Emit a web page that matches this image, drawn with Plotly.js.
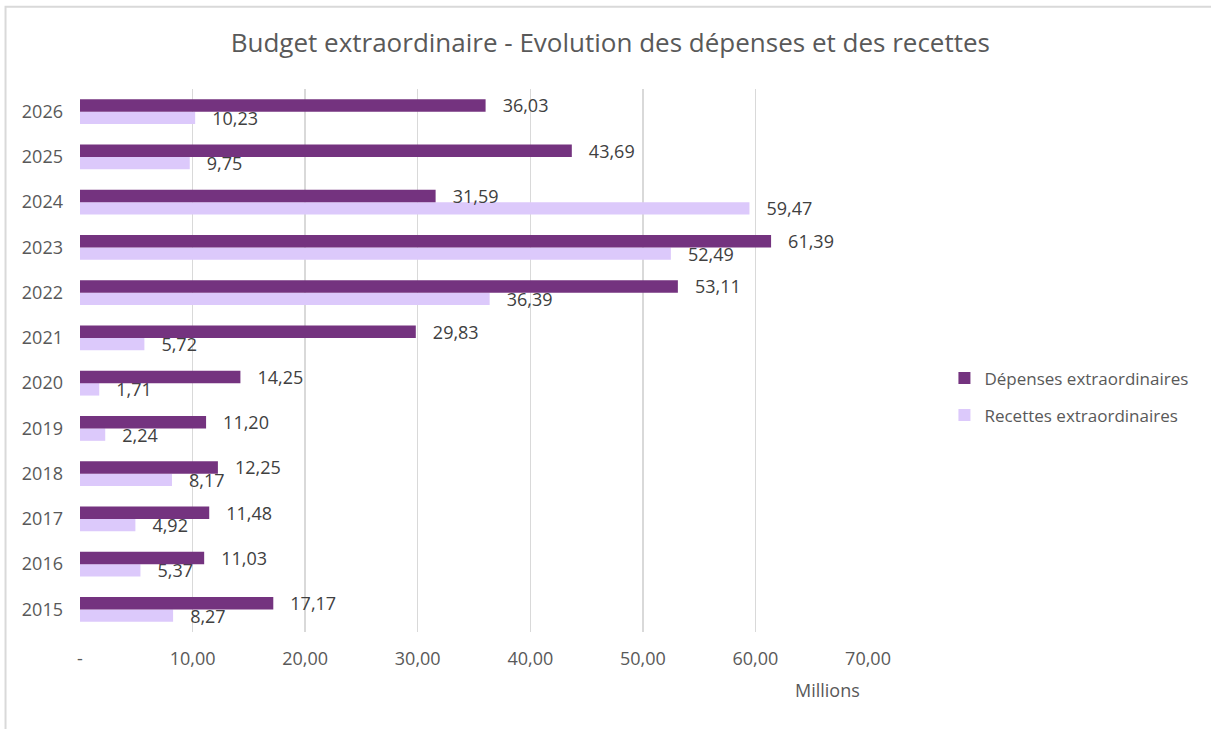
<!DOCTYPE html>
<html>
<head>
<meta charset="utf-8">
<script src="https://cdn.plot.ly/plotly-3.0.1.min.js"></script>
<style>html,body{margin:0;padding:0;background:#fff;}#chart{width:1211px;height:729px;}</style>
</head>
<body>
<div id="chart"></div>
<script>
const years = ['2015','2016','2017','2018','2019','2020','2021','2022','2023','2024','2025','2026'];
const depenses = [17.17, 11.03, 11.48, 12.25, 11.20, 14.25, 29.83, 53.11, 61.39, 31.59, 43.69, 36.03];
const recettes = [8.27, 5.37, 4.92, 8.17, 2.24, 1.71, 5.72, 36.39, 52.49, 59.47, 9.75, 10.23];
const xTickVals = [0, 10, 20, 30, 40, 50, 60, 70];
const xTickText = ['-', '10,00', '20,00', '30,00', '40,00', '50,00', '60,00', '70,00'];

const FONT = 'Open Sans, Liberation Sans, sans-serif';
const pad = '\u00A0\u00A0\u00A0';

const traces = [
  {
    type: 'bar', orientation: 'h', name: 'Recettes extraordinaires',
    y: years, x: recettes,
    marker: {color: '#DCC9FB'},
    texttemplate: pad + '%{x:.2f}', textposition: 'outside', cliponaxis: false,
    constraintext: 'none',
    textfont: {family: FONT, size: 18, color: '#404040'},
    legendgroup: 'r', legendrank: 2, hoverinfo: 'x+name'
  },
  {
    type: 'bar', orientation: 'h', name: 'Dépenses extraordinaires',
    y: years, x: depenses,
    marker: {color: '#74337F'},
    texttemplate: pad + '%{x:.2f}', textposition: 'outside', cliponaxis: false,
    constraintext: 'none',
    textfont: {family: FONT, size: 18, color: '#404040'},
    legendgroup: 'd', legendrank: 1, hoverinfo: 'x+name'
  }
];

const layout = {
  width: 1211, height: 729,
  paper_bgcolor: '#ffffff', plot_bgcolor: '#ffffff',
  separators: ', ',
  font: {family: FONT, color: '#595959', size: 18},
  margin: {l: 80, r: 343, t: 89, b: 97},
  barmode: 'group', bargap: 0.45, bargroupgap: 0,
  title: {
    text: 'Budget extraordinaire - Evolution des dépenses et des recettes',
    font: {family: FONT, size: 26, color: '#595959'},
    x: 0.504, xref: 'container', xanchor: 'center',
    y: 0.941, yref: 'container', yanchor: 'middle'
  },
  xaxis: {
    range: [0, 70], tickvals: xTickVals, ticktext: xTickText,
    showgrid: true, gridcolor: '#D9D9D9', gridwidth: 1.5,
    zeroline: false, showline: false, ticks: '',
    ticklabelstandoff: 14,
    tickfont: {family: FONT, size: 18, color: '#595959'},
    fixedrange: true
  },
  yaxis: {
    type: 'category', categoryorder: 'array', categoryarray: years,
    showgrid: false, zeroline: false, showline: false, ticks: '',
    ticklabelstandoff: 16,
    tickfont: {family: FONT, size: 18, color: '#595959'},
    fixedrange: true
  },
  legend: {
    x: 1.097, xanchor: 'left', y: 0.433, yanchor: 'middle',
    traceorder: 'grouped', tracegroupgap: 12,
    font: {family: FONT, size: 17, color: '#595959'},
    bgcolor: 'rgba(0,0,0,0)'
  },
  annotations: [{
    text: 'Millions', xref: 'paper', yref: 'paper',
    x: 0.993, xanchor: 'right', y: -0.107, yanchor: 'middle',
    showarrow: false, font: {family: FONT, size: 18, color: '#595959'}
  }],
  shapes: [{
    type: 'rect', xref: 'paper', yref: 'paper',
    x0: -0.0945, x1: 1.6, y0: -0.5, y1: 1.1515,
    line: {color: '#D9D9D9', width: 2}, fillcolor: 'rgba(0,0,0,0)', layer: 'below'
  }]
};

Plotly.newPlot('chart', traces, layout, {displayModeBar: false, staticPlot: true});
</script>
</body>
</html>
